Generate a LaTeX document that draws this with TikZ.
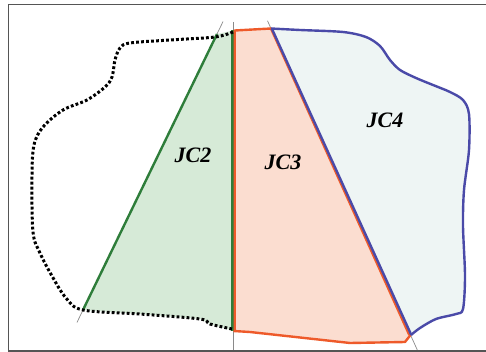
\documentclass[tikz,border=0pt]{standalone}
\usepackage{fontspec}
\setmainfont{Liberation Serif}
\usetikzlibrary{calc}
\definecolor{fillGreen}{HTML}{D6EAD7}
\definecolor{fillRed}{HTML}{FBDDD0}
\definecolor{fillBlue}{HTML}{EEF5F4}
\definecolor{lineGreen}{HTML}{2E7D3A}
\definecolor{lineRed}{HTML}{EE5A2A}
\definecolor{lineBlue}{HTML}{4A4AA8}
\definecolor{lineGuide}{HTML}{8A8A8A}
\definecolor{lineFrame}{HTML}{555555}

\begin{document}
\begin{tikzpicture}[
    x=1pt, y=-1pt,
    guide/.style={draw=lineGuide, line width=0.7pt},
    edge/.style={line width=2.4pt, line join=round},
    dotline/.style={line width=3pt, dash pattern=on 2.8pt off 2.2pt},
    zonelabel/.style={font=\fontsize{22}{26}\selectfont\bfseries\itshape}
]
    \useasboundingbox (0,0) rectangle (486,352);

    % ==========================================
    % 1. CORNERS OF THE ZONES
    % ==========================================
    \coordinate (gbot) at (83,310);
    \coordinate (gtop) at (217,34);
    \coordinate (mtop) at (233.5,30.5);
    \coordinate (mbot) at (233.5,331);
    \coordinate (rtop) at (271,28.5);
    \coordinate (rbot) at (410.5,335);

    % ==========================================
    % 2. FILLS
    % ==========================================
    \fill[fillGreen] (gbot) -- (gtop) -- (mtop) -- (mbot) -- (210,324) -- (200,319)
        -- (140,314) -- cycle;
    \fill[fillRed] (mtop) -- (rtop) -- (rbot) -- (405,342) -- (350,343) -- (250,332)
        -- (mbot) -- cycle;
    \fill[fillBlue] plot[smooth, tension=0.5] coordinates {(271,28.5) (300,30) (343,32)
        (366,37) (380,46) (390,60) (400,70) (416,78) (433,85) (450,92) (463,100)
        (469,114) (469,150) (464,190) (463,226) (465,276) (463,309) (456,314)
        (436,319) (420,328) (410.5,335)} -- cycle;

    % ==========================================
    % 3. GUIDE LINES (thin gray)
    % ==========================================
    \draw[guide] ($(gbot)!-0.045!(gtop)$) -- ($(gtop)!-0.045!(gbot)$);
    \draw[guide] (233.5,22) -- (233.5,351);
    \draw[guide] ($(rtop)!-0.025!(rbot)$) -- ($(rbot)!-0.055!(rtop)$);

    % ==========================================
    % 4. ZONE EDGES
    % ==========================================
    % --- JC2 ---
    \draw[edge, lineGreen] (gbot) -- (gtop);
    \draw[edge, lineGreen] ([xshift=-1.2pt]mtop) -- ([xshift=-1.2pt]mbot);

    % --- JC3 ---
    \draw[edge, lineRed] ([xshift=1.2pt]mbot) -- ([xshift=1.2pt]mtop) -- (rtop)
        -- ([xshift=-1.2pt]rbot);
    \draw[edge, lineRed] (mbot) -- (250,332) -- (350,343) -- (405,342) -- (rbot);

    % --- JC4 ---
    \draw[edge, lineBlue] ([xshift=0.8pt]rtop) -- ([xshift=0.8pt]rbot);
    \draw[edge, lineBlue] plot[smooth, tension=0.5] coordinates {(271,28.5) (300,30)
        (343,32) (366,37) (380,46) (390,60) (400,70) (416,78) (433,85) (450,92)
        (463,100) (469,114) (469,150) (464,190) (463,226) (465,276) (463,309)
        (456,314) (436,319) (420,328) (411,335)};

    % --- open zone (dotted) ---
    \draw[dotline] plot[smooth, tension=0.55] coordinates {(233,32) (215,37) (170,40)
        (130,43) (120,48) (115,60) (112,77) (105,87) (87,100) (63,110) (43,127)
        (34,145) (32,176) (33,232) (40,253) (52,276) (66,298) (83,310) (140,314)
        (200,319) (210,324) (232,329)};

    % ==========================================
    % 5. LABELS AND FRAME
    % ==========================================
    \node[zonelabel] (jc2) at (193,155) {JC2};
    \node[zonelabel] (jc3) at (283,162) {JC3};
    \node[zonelabel] (jc4) at (385,120) {JC4};

    \draw[lineFrame, line width=1.4pt] (486,4.5) -- (8.5,4.5) -- (8.5,351) -- (486,351);

\end{tikzpicture}
\end{document}
